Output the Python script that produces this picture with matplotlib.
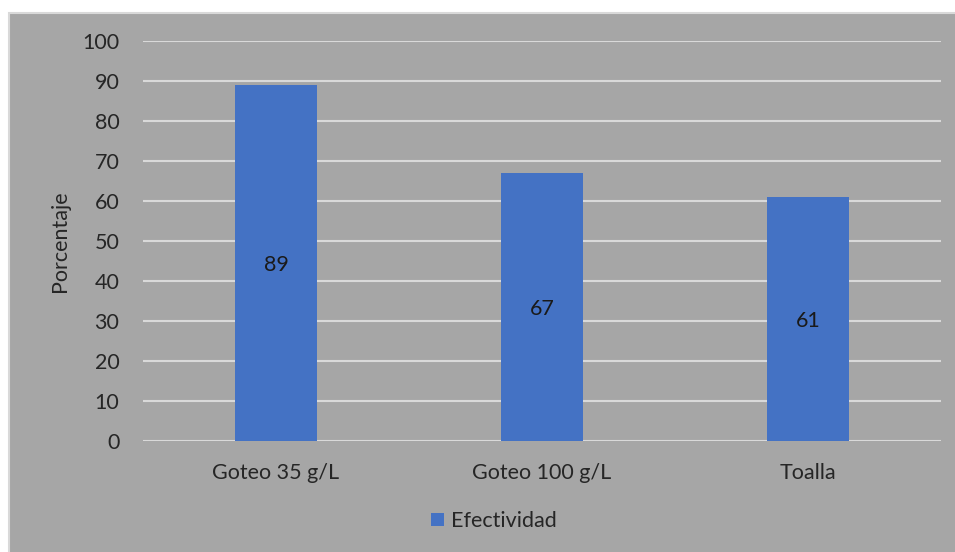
import numpy as np
import matplotlib.pyplot as plt
from matplotlib.patches import Rectangle

plt.rcParams['font.family'] = ['Lato', 'DejaVu Sans']

categorias = ['Goteo 35 g/L', 'Goteo 100 g/L', 'Toalla']
efectividad = [89, 67, 61]

W, H = 955, 552
fig = plt.figure(figsize=(W / 100, H / 100), dpi=100)
fig.patch.set_facecolor('white')

# fondo gris del area del grafico
fondo = Rectangle((8.5 / W, -0.02), 1.05, 1.02 - 12.5 / H, transform=fig.transFigure,
                  facecolor='#a6a6a6', edgecolor='#d9d9d9', linewidth=1.5, zorder=-10)
fig.patches.append(fondo)

ax = fig.add_axes([143 / W, 1 - 441 / H, (941 - 143) / W, 400 / H])
ax.set_facecolor('none')

fs = 15.5
x = np.arange(len(categorias))
barras = ax.bar(x, efectividad, width=0.312, color='#4472c4', zorder=3,
                label='Efectividad')

for xi, v in zip(x, efectividad):
    ax.text(xi, v / 2, str(v), ha='center', va='center_baseline', fontsize=fs,
            color='#1a1a1a', zorder=4)

ax.set_xlim(-0.5, 2.5)
ax.set_ylim(0, 100)
ax.set_yticks(range(0, 101, 10))
ax.set_xticks(x)
ax.set_xticklabels(categorias)
ax.grid(axis='y', color='#d9d9d9', linewidth=1.5, zorder=1)
ax.set_axisbelow(True)
for s in ax.spines.values():
    s.set_visible(False)
ax.tick_params(axis='both', length=0, labelsize=fs, labelcolor='#262626')
ax.tick_params(axis='y', pad=17)
ax.tick_params(axis='x', pad=16)

fig.text(60 / W, 1 - 241 / H, 'Porcentaje', rotation=90, ha='center', va='center',
         fontsize=fs, color='#262626')

leg = fig.legend(handles=[barras], labels=['Efectividad'], loc='center',
                 bbox_to_anchor=(494 / W, 1 - 521 / H), frameon=False,
                 fontsize=fs, handlelength=0.6, handleheight=0.6,
                 handletextpad=0.3, labelcolor='#262626')

fig.savefig('out.png', dpi=100, facecolor='white')
